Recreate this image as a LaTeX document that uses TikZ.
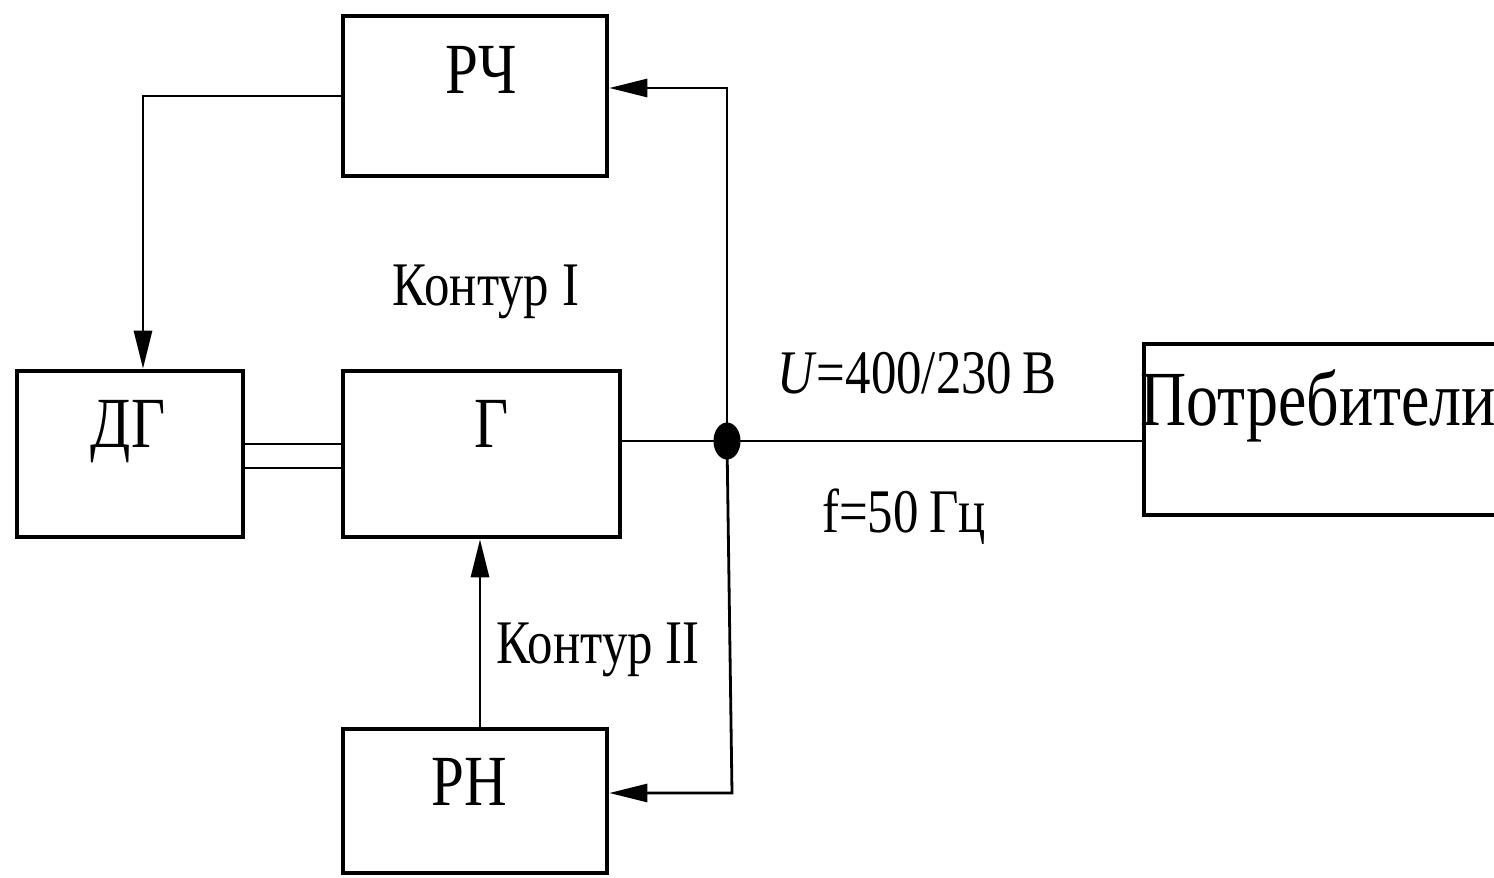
\documentclass[tikz,border=0pt]{standalone}
\usepackage{fontspec}
\setmainfont[FakeStretch=0.82]{Liberation Serif}
\usetikzlibrary{arrows.meta,shapes.geometric}
\tikzset{
  box/.style={draw, line width=2.3pt, inner sep=0pt, rectangle},
  conn/.style={line width=1.4pt},
  arr/.style={conn, -{Triangle[length=19pt,width=9pt]}},
  big/.style={font=\fontsize{36}{40}\selectfont, anchor=base, inner sep=0pt},
  huge/.style={font=\fontsize{39}{44}\selectfont, anchor=base, inner sep=0pt},
  mid/.style={font=\fontsize{31}{36}\selectfont, anchor=base, inner sep=0pt},
}
\begin{document}
\begin{tikzpicture}[x=0.5pt,y=-0.5pt]
\useasboundingbox (0,0) rectangle (1494,878);
% boxes
\node[box, minimum width=132pt, minimum height=80pt] (RCh) at (475,96) {};
\node[box, minimum width=113pt, minimum height=83pt] (DG) at (130,454) {};
\node[box, minimum width=138.5pt, minimum height=83pt] (G) at (481.5,454) {};
\node[box, minimum width=132pt, minimum height=72pt] (RN) at (475,801) {};
\node[box, minimum width=178pt, minimum height=85.5pt] (Potr) at (1322,429.5) {};
% texts
\node[big] (tRCh) at (481,93) {РЧ};
\node[big] (tDG) at (128,447) {ДГ};
\node[big] (tG) at (492,447) {Г};
\node[big] (tRN) at (469,805) {РН};
\node[huge] (tPotr) at (1318,425) {Потребители};
\node[mid] (k1txt) at (486,305) {Контур I};
\node[mid] (k2txt) at (598,663) {Контур II};
\node[mid] (utxt) at (917,393) {\textit{U}=400/230\,В};
\node[mid] (ftxt) at (904,532) {f=50\,Гц};
% junction
\node[ellipse, fill, inner sep=0pt, minimum width=13.5pt, minimum height=18.5pt] (J) at (727,441) {};
% coordinates
\coordinate (c1) at (143,96);
\coordinate (c2) at (727,88);
\coordinate (c3) at (732,793);
\coordinate (c4) at (480,0);
\coordinate (d1) at (0,444);
\coordinate (d2) at (0,468);
% connectors
\draw[arr] (RCh.west) -- (c1) -- (c1 |- DG.north);
\draw[conn] (DG.east |- d1) -- (G.west |- d1);
\draw[conn] (DG.east |- d2) -- (G.west |- d2);
\draw[conn] (J -| G.east) -- (J.center) -- (J -| Potr.west);
\draw[arr] (J.center) -- (c2) -- (c2 -| RCh.east);
\draw[arr] (J.center) -- (c3) -- (c3 -| RN.east);
\draw[arr] (c4 |- RN.north) -- (c4 |- G.south);
\end{tikzpicture}
\end{document}
